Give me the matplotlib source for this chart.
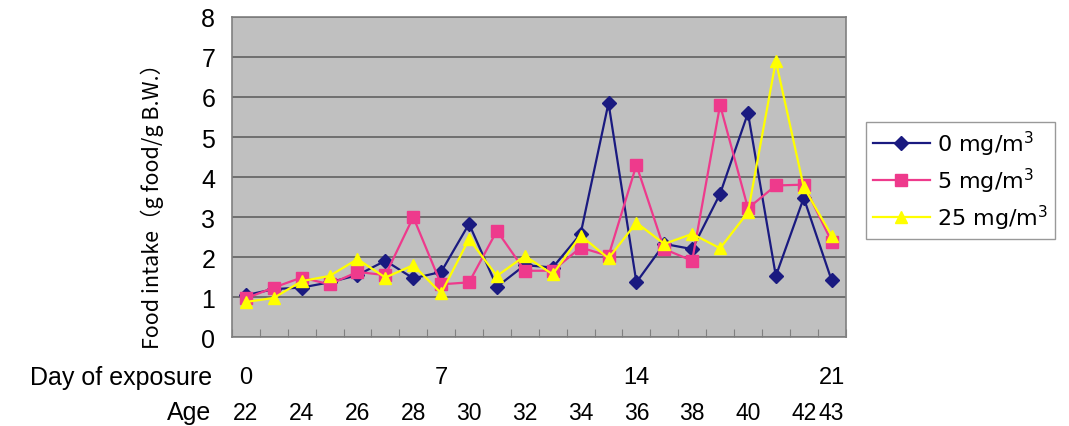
import matplotlib.pyplot as plt

# data
days = list(range(22))
age_labels = ["22", "", "24", "", "26", "", "28", "", "30", "", "32", "",
              "34", "", "36", "", "38", "", "40", "", "42", "43"]
day_labels = {0: "0", 7: "7", 14: "14", 21: "21"}

dose_0 = [1.05, 1.2, 1.24, 1.37, 1.55, 1.91, 1.47, 1.63, 2.83, 1.26, 1.8,
          1.74, 2.58, 5.85, 1.37, 2.33, 2.2, 3.58, 5.6, 1.53, 3.48, 1.42]
dose_5 = [0.97, 1.24, 1.49, 1.32, 1.63, 1.55, 3.0, 1.32, 1.37, 2.66, 1.66,
          1.66, 2.24, 2.03, 4.3, 2.2, 1.91, 5.8, 3.22, 3.79, 3.81, 2.39]
dose_25 = [0.88, 0.98, 1.4, 1.53, 1.95, 1.49, 1.8, 1.1, 2.45, 1.53, 2.03,
           1.57, 2.54, 1.97, 2.86, 2.33, 2.58, 2.22, 3.12, 6.9, 3.75, 2.54]

arial = ['Liberation Sans', 'DejaVu Sans']

fig = plt.figure(figsize=(10.69, 4.27), dpi=100)
ax = fig.add_axes([0.217, 0.208, 0.574, 0.75])
ax.set_facecolor('#c0c0c0')

ax.plot(days, dose_0, color='#1a1a80', marker='D', markersize=7, lw=1.6, label='0 mg/m$^3$')
ax.plot(days, dose_5, color='#ee3a8c', marker='s', markersize=8, lw=1.6, label='5 mg/m$^3$')
ax.plot(days, dose_25, color='#ffff00', marker='^', markersize=9, lw=1.6, label='25 mg/m$^3$')

ax.set_xlim(-0.5, 21.5)
ax.set_ylim(0, 8)
ax.set_yticks(range(9))
ax.yaxis.grid(True, color='#606060', lw=1.2)
ax.set_axisbelow(True)
ax.tick_params(axis='y', labelsize=18, length=0, pad=12)
for t in ax.get_yticklabels():
    t.set_family(arial)
ax.set_xticks([i + 0.5 for i in range(-1, 22)])
ax.set_xticklabels([])
ax.tick_params(axis='x', direction='in', length=6, color='#808080')
for s in ax.spines.values():
    s.set_color('#808080')
    s.set_linewidth(1.2)

ax.set_ylabel('Food intake（g food/g B.W.）', fontsize=15.5,
              family=['Noto Sans CJK JP', 'DejaVu Sans'])
ax.yaxis.set_label_coords(-0.11, 0.43)

# two rows of category labels under the axis
tr = ax.get_xaxis_transform()
for i, lab in day_labels.items():
    ax.text(i, -0.125, lab, transform=tr, ha='center', va='center',
            fontsize=17, family=arial)
for i, lab in enumerate(age_labels):
    if lab:
        ax.text(i, -0.235, lab, transform=tr, ha='center', va='center',
                fontsize=16.5, family=arial)
fig.text(0.198, 0.115, 'Day of exposure', ha='right', va='center',
         fontsize=18, family=arial)
fig.text(0.198, 0.033, 'Age', ha='right', va='center', fontsize=18, family=arial)

leg = ax.legend(loc='center left', bbox_to_anchor=(1.015, 0.49), fontsize=16,
                frameon=True, fancybox=False, edgecolor='#808080',
                handlelength=2.6, borderpad=0.3, labelspacing=0.35,
                handletextpad=0.3)
leg.get_frame().set_linewidth(1.0)

fig.savefig('out.png', dpi=100)
